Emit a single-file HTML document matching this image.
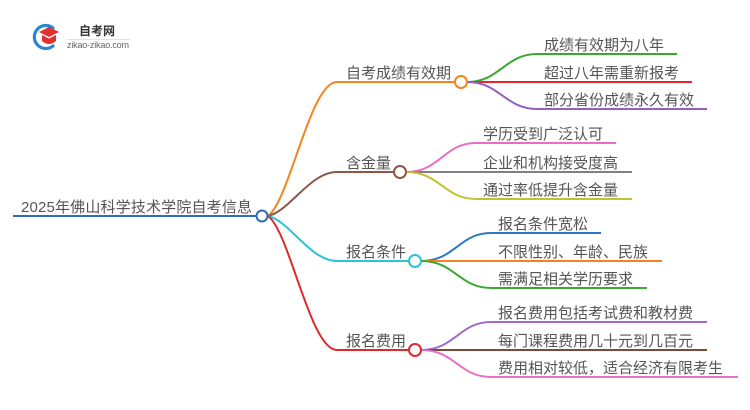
<!DOCTYPE html>
<html>
<head>
<meta charset="utf-8">
<style>
  html,body{margin:0;padding:0;background:#ffffff;}
  body{width:750px;height:410px;overflow:hidden;}
  svg{display:block;}
  .t{font-family:"Liberation Sans","Noto Sans CJK SC",sans-serif;font-size:15px;fill:#555555;}
</style>
</head>
<body>
<svg width="750" height="410" viewBox="0 0 750 410" xmlns="http://www.w3.org/2000/svg">
  <!-- Logo -->
  <g>
    <path d="M53,28 A11.5,11.5 0 1 0 53,46" fill="none" stroke="#2b86d3" stroke-width="3.2" stroke-linecap="round"/>
    <polygon points="39,32 49,27 59,32 49,37" fill="#e0302f"/>
    <path d="M42,35 L42,41 Q49,47 56,41 L56,35 L49,38.5 Z" fill="#e0302f"/>
    <line x1="42" y1="34.5" x2="49" y2="38" stroke="#ffffff" stroke-width="0.8"/>
    <line x1="49" y1="38" x2="56" y2="34.5" stroke="#ffffff" stroke-width="0.8"/>
    <text x="79" y="35" font-family="'Liberation Sans','Noto Sans CJK SC',sans-serif" font-size="12" font-weight="bold" fill="#333333">自考网</text>
    <line x1="67" y1="39.5" x2="130" y2="39.5" stroke="#e2e2e2" stroke-width="1"/>
    <text x="67" y="48" font-family="'Liberation Sans',sans-serif" font-size="9" fill="#666666" textLength="62">zikao-zikao.com</text>
  </g>

  <!-- Root -->
  <line x1="13" y1="216" x2="257" y2="216" stroke="#2f6fb5" stroke-width="2"/>
  <text class="t" x="21" y="212" textLength="231">2025年佛山科学技术学院自考信息</text>

  <!-- Main branches -->
  <path d="M268,216 C290,200 310,82 337,82 L455,82" fill="none" stroke="#f5841f" stroke-width="2"/>
  <path d="M268,216 C290,211 310,172 337,172 L394,172" fill="none" stroke="#8b5747" stroke-width="2"/>
  <path d="M268,216 C290,221 310,261 337,261 L409,261" fill="none" stroke="#2cc3d6" stroke-width="2"/>
  <path d="M268,216 C290,232 310,350 337,350 L409,350" fill="none" stroke="#de2a2a" stroke-width="2"/>

  <circle cx="262" cy="216" r="5.5" fill="#ffffff" stroke="#2f6fb5" stroke-width="2"/>

  <!-- Branch labels -->
  <text class="t" x="346" y="78">自考成绩有效期</text>
  <text class="t" x="346" y="168">含金量</text>
  <text class="t" x="346" y="257">报名条件</text>
  <text class="t" x="346" y="346">报名费用</text>

  <!-- Branch 1 children -->
  <path d="M467,82 C500,82 505,54 537,54 L677,54" fill="none" stroke="#3aa832" stroke-width="2"/>
  <path d="M467,82 L692,82" fill="none" stroke="#e8262b" stroke-width="2"/>
  <path d="M467,82 C500,82 505,109 537,109 L707,109" fill="none" stroke="#9460c0" stroke-width="2"/>
  <circle cx="461" cy="82" r="6" fill="#ffffff" stroke="#f5841f" stroke-width="2"/>
  <text class="t" x="544" y="50">成绩有效期为八年</text>
  <text class="t" x="544" y="78">超过八年需重新报考</text>
  <text class="t" x="544" y="105">部分省份成绩永久有效</text>

  <!-- Branch 2 children -->
  <path d="M406,172 C440,172 444,143 476,143 L616,143" fill="none" stroke="#e86ec8" stroke-width="2"/>
  <path d="M406,172 L632,172" fill="none" stroke="#808080" stroke-width="2"/>
  <path d="M406,172 C440,172 444,199 476,199 L632,199" fill="none" stroke="#c2c230" stroke-width="2"/>
  <circle cx="400" cy="172" r="6" fill="#ffffff" stroke="#8b5747" stroke-width="2"/>
  <text class="t" x="483" y="139">学历受到广泛认可</text>
  <text class="t" x="483" y="168">企业和机构接受度高</text>
  <text class="t" x="483" y="195">通过率低提升含金量</text>

  <!-- Branch 3 children -->
  <path d="M421,261 C455,261 459,233 491,233 L601,233" fill="none" stroke="#2c78c0" stroke-width="2"/>
  <path d="M421,261 L662,261" fill="none" stroke="#f58220" stroke-width="2"/>
  <path d="M421,261 C455,261 459,288 491,288 L647,288" fill="none" stroke="#3aa832" stroke-width="2"/>
  <circle cx="415" cy="261" r="6" fill="#ffffff" stroke="#2cc3d6" stroke-width="2"/>
  <text class="t" x="498" y="229">报名条件宽松</text>
  <text class="t" x="498" y="257">不限性别、年龄、民族</text>
  <text class="t" x="498" y="284">需满足相关学历要求</text>

  <!-- Branch 4 children -->
  <path d="M421,350 C455,350 459,322 491,322 L707,322" fill="none" stroke="#9c6ccc" stroke-width="2"/>
  <path d="M421,350 L707,350" fill="none" stroke="#7b4a3a" stroke-width="2"/>
  <path d="M421,350 C455,350 459,377 491,377 L738,377" fill="none" stroke="#e870c8" stroke-width="2"/>
  <circle cx="415" cy="350" r="6" fill="#ffffff" stroke="#de2a2a" stroke-width="2"/>
  <text class="t" x="498" y="318">报名费用包括考试费和教材费</text>
  <text class="t" x="498" y="346">每门课程费用几十元到几百元</text>
  <text class="t" x="498" y="373">费用相对较低，适合经济有限考生</text>
</svg>
</body>
</html>
